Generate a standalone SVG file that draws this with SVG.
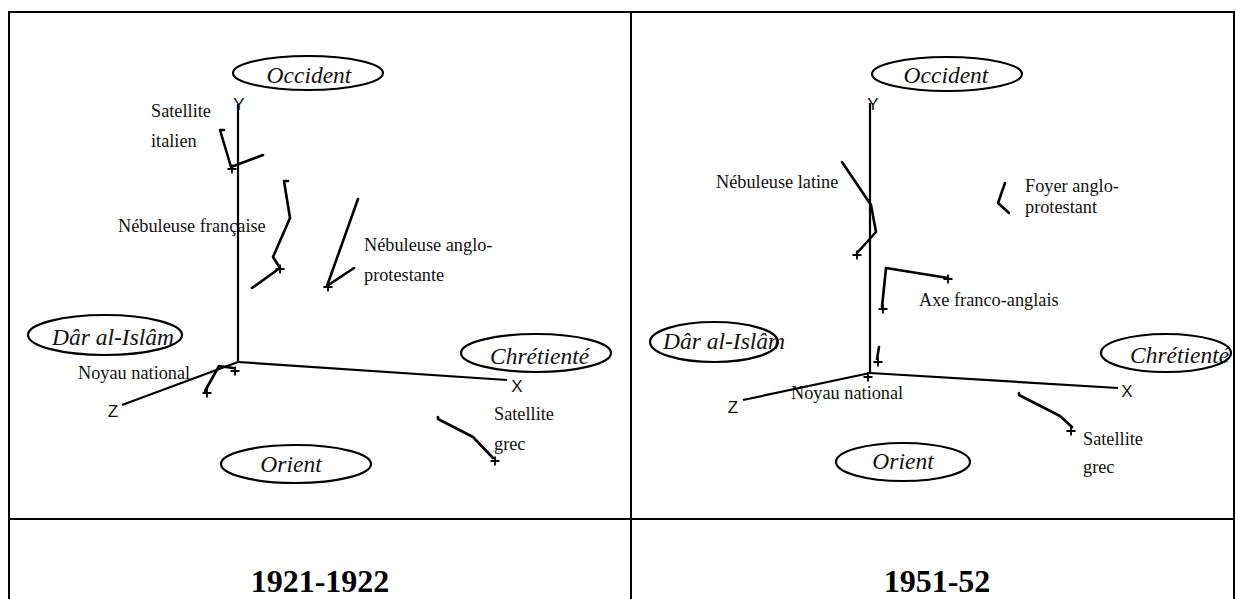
<svg xmlns="http://www.w3.org/2000/svg" width="1236" height="599" viewBox="0 0 1236 599">
<style>
.frame{stroke:#000;stroke-width:2;fill:none}
.ell{fill:#fff;stroke:#000;stroke-width:2.2}
.ital{font-family:"Liberation Serif","Times New Roman",serif;font-style:italic;font-size:23.5px;fill:#111}
.lab{font-family:"Liberation Serif","Times New Roman",serif;font-size:18.3px;fill:#111}
.ax{font-family:"Liberation Sans",Arial,sans-serif;font-size:17px;fill:#111}
.axis{stroke:#000;stroke-width:2.2;fill:none}
.pl{stroke:#000;stroke-width:2.6;fill:none;stroke-linejoin:round;stroke-linecap:round}
.title{font-family:"Liberation Serif","Times New Roman",serif;font-weight:bold;font-size:32px;fill:#000}
</style>
<defs>
<path id="plus" d="M-4.5,0 H4.5 M0,-4.5 V4.5" stroke="#000" stroke-width="1.8" fill="none"/>
</defs>
<rect width="1236" height="599" fill="#fff"/>
<g id="frame">
<line class="frame" x1="8" y1="12" x2="1235" y2="12"/>
<line class="frame" x1="9" y1="12" x2="9" y2="599"/>
<line class="frame" x1="631" y1="12" x2="631" y2="599"/>
<line class="frame" x1="1234" y1="12" x2="1234" y2="599"/>
<line class="frame" x1="9" y1="519" x2="1234" y2="519"/>
</g>

<!-- LEFT PANEL -->
<g id="axes-left">
<line class="axis" x1="238" y1="104" x2="238" y2="362"/>
<line class="axis" x1="238" y1="362" x2="507" y2="380"/>
<line class="axis" x1="238" y1="362" x2="122" y2="405"/>
<text class="ax" x="239" y="110" text-anchor="middle">Y</text>
<text class="ax" x="517" y="392" text-anchor="middle">X</text>
<text class="ax" x="113" y="417" text-anchor="middle">Z</text>
</g>
<g id="occident-left"><ellipse class="ell" cx="308" cy="73" rx="75" ry="17"/><text class="ital" x="309" y="83" text-anchor="middle">Occident</text></g>
<g id="dar-left"><ellipse class="ell" cx="105" cy="335" rx="77" ry="20"/><text class="ital" x="52" y="345">Dâr al-Islâm</text></g>
<g id="chretiente-left"><ellipse class="ell" cx="536" cy="353" rx="75" ry="19"/><text class="ital" x="490" y="364">Chrétienté</text></g>
<g id="orient-left"><ellipse class="ell" cx="296" cy="464" rx="75" ry="19"/><text class="ital" x="291" y="472" text-anchor="middle">Orient</text></g>
<g id="satellite-italien-left"><text class="lab" x="151" y="117">Satellite</text><text class="lab" x="151" y="147">italien</text></g>
<g id="nebuleuse-francaise-left"><text class="lab" x="118" y="232">Nébuleuse française</text></g>
<g id="nebuleuse-anglo-left"><text class="lab" x="364" y="251">Nébuleuse anglo-</text><text class="lab" x="364" y="281">protestante</text></g>
<g id="noyau-left"><text class="lab" x="78" y="379">Noyau national</text></g>
<g id="satellite-grec-left"><text class="lab" x="494" y="420">Satellite</text><text class="lab" x="494" y="450">grec</text></g>

<!-- RIGHT PANEL -->
<g id="axes-right">
<line class="axis" x1="870" y1="103" x2="870" y2="373"/>
<line class="axis" x1="870" y1="373" x2="1118" y2="388"/>
<line class="axis" x1="870" y1="373" x2="743" y2="400"/>
<text class="ax" x="873" y="110" text-anchor="middle">Y</text>
<text class="ax" x="1127" y="397" text-anchor="middle">X</text>
<text class="ax" x="733" y="413" text-anchor="middle">Z</text>
</g>
<g id="occident-right"><ellipse class="ell" cx="947" cy="74" rx="75" ry="17"/><text class="ital" x="946" y="83" text-anchor="middle">Occident</text></g>
<g id="dar-right"><ellipse class="ell" cx="714" cy="342" rx="64" ry="20"/><text class="ital" x="663" y="349">Dâr al-Islâm</text></g>
<g id="chretiente-right"><ellipse class="ell" cx="1166" cy="353" rx="65" ry="19"/><text class="ital" x="1130" y="363">Chrétienté</text></g>
<g id="orient-right"><ellipse class="ell" cx="903" cy="462" rx="67" ry="19"/><text class="ital" x="903" y="469" text-anchor="middle">Orient</text></g>
<g id="nebuleuse-latine-right"><text class="lab" x="716" y="188">Nébuleuse latine</text></g>
<g id="foyer-anglo-right"><text class="lab" x="1025" y="192">Foyer anglo-</text><text class="lab" x="1025" y="213">protestant</text></g>
<g id="axe-franco-right"><text class="lab" x="919" y="306">Axe franco-anglais</text></g>
<g id="noyau-right"><text class="lab" x="791" y="399">Noyau national</text></g>
<g id="satellite-grec-right"><text class="lab" x="1083" y="445">Satellite</text><text class="lab" x="1083" y="473">grec</text></g>

<g id="connectors">
<!-- left -->
<polyline class="pl" points="224,130 220,130 231,167 263,155"/>
<use href="#plus" x="232" y="169"/>
<polyline class="pl" points="288,181 284,181 290,218 273,257 280,268 252,288"/>
<use href="#plus" x="280" y="269"/>
<polyline class="pl" points="358,199 327,286 354,268"/>
<use href="#plus" x="328" y="287"/>
<polyline class="pl" points="233,368 219,366 205,391"/>
<use href="#plus" x="235" y="371"/>
<use href="#plus" x="207" y="393"/>
<polyline class="pl" points="438,417 438,419 473,437 493,458"/>
<use href="#plus" x="495" y="461"/>
<!-- right -->
<polyline class="pl" points="842,162 871,205 876,232 857,253"/>
<use href="#plus" x="857" y="255"/>
<polyline class="pl" points="882,307 886,268 948,278"/>
<use href="#plus" x="883" y="309"/>
<use href="#plus" x="948" y="279"/>
<polyline class="pl" points="1005,183 998,203 1009,213"/>
<polyline class="pl" points="879,347 877,359"/>
<use href="#plus" x="878" y="362"/>
<use href="#plus" x="868" y="377"/>
<polyline class="pl" points="1019,393 1019,395 1060,416 1072,427"/>
<use href="#plus" x="1071" y="431"/>
</g>

<g id="titles">
<text class="title" x="320" y="592" text-anchor="middle">1921-1922</text>
<text class="title" x="937" y="592" text-anchor="middle">1951-52</text>
</g>
</svg>
